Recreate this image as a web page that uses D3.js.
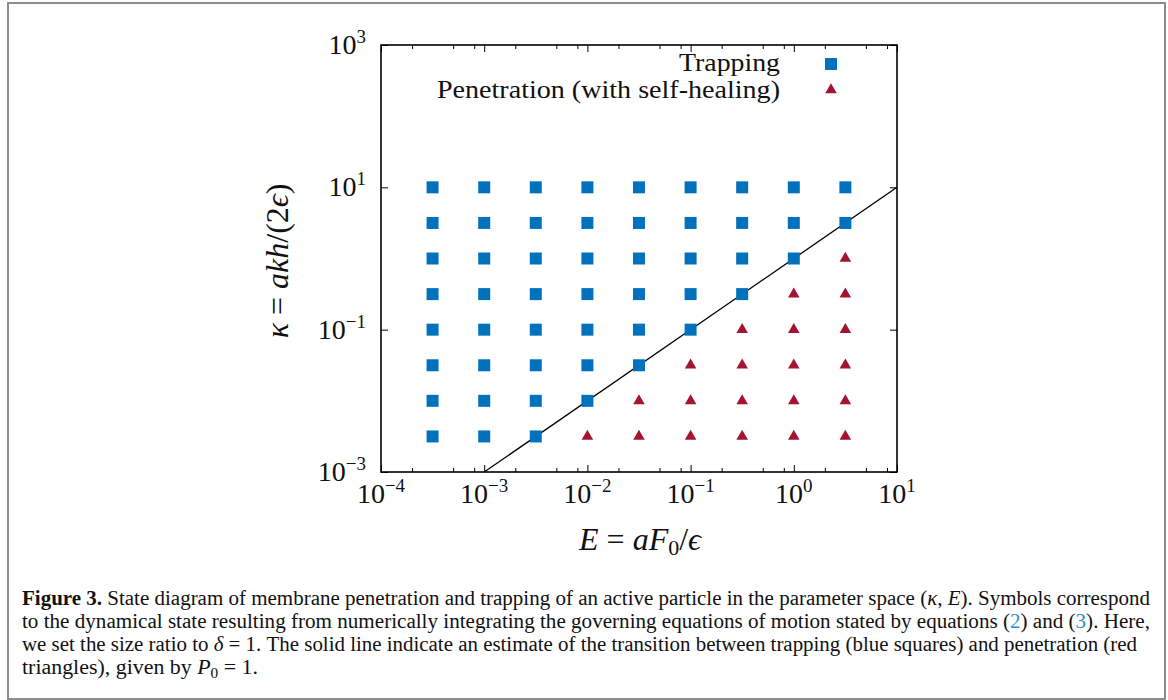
<!DOCTYPE html>
<html>
<head>
<meta charset="utf-8">
<script src="https://cdn.jsdelivr.net/npm/d3@7"></script>
<style>
  body { margin: 0; background: #fff; }
  svg text { font-family: "Liberation Serif", "DejaVu Serif", serif; fill: #111; }
</style>
</head>
<body>
<div id="chart"></div>
<script>
// grid of simulated parameters
const eValues = [3.16e-4, 1e-3, 3.16e-3, 1e-2, 3.16e-2, 1e-1, 3.16e-1, 1, 3.16];
const kappaValues = [10, 3.16, 1, 3.16e-1, 1e-1, 3.16e-2, 1e-2, 3.16e-3];
// T = trapping, P = penetration, one string per kappa row (same order as kappaValues)
const stateRows = [
	"TTTTTTTTT",
	"TTTTTTTTT",
	"TTTTTTTTP",
	"TTTTTTTPP",
	"TTTTTTPPP",
	"TTTTTPPPP",
	"TTTTPPPPP",
	"TTTPPPPPP"
];
// transition estimate P0 = 1
const boundaryE = [1e-3, 1e1];
const boundaryKappa = [1e-3, 1e1];

const xTickExponents = [-4, -3, -2, -1, 0, 1];
const yTickExponents = [-3, -1, 1, 3];
const xMinorFactors = [2, 5, 8];
const legendLabels = ["Trapping", "Penetration (with self-healing)"];

const blue = '#0072bd', red = '#a2142f';
const W = 1168, H = 700;
const plotLeft = 381, plotRight = 897, plotTop = 45, plotBottom = 472;

const svg = d3.select('#chart').append('svg').attr('width', W).attr('height', H);

svg.append('rect').attr('x', 8).attr('y', 3).attr('width', 1157).attr('height', 696)
	.attr('fill', 'none').attr('stroke', '#8c8c8c').attr('stroke-width', 2);

const x = d3.scaleLog().domain([1e-4, 1e1]).range([plotLeft, plotRight]);
const y = d3.scaleLog().domain([1e-3, 1e3]).range([plotBottom, plotTop]);

const xMajor = xTickExponents.map(e => Math.pow(10, e));
const yMajor = yTickExponents.map(e => Math.pow(10, e));
const xMinor = [];
xMajor.slice(0, -1).forEach(m => xMinorFactors.forEach(f => xMinor.push(m * f)));

const tickAxis = (axis, g) => { g.call(axis); g.select('.domain').remove(); g.selectAll('line').attr('stroke', '#000').attr('stroke-width', 1); };

tickAxis(d3.axisBottom(x).tickValues(xMajor).tickSizeInner(-7).tickSizeOuter(0).tickFormat(''), svg.append('g').attr('transform', `translate(0,${plotBottom})`));
tickAxis(d3.axisBottom(x).tickValues(xMinor).tickSizeInner(-4).tickSizeOuter(0).tickFormat(''), svg.append('g').attr('transform', `translate(0,${plotBottom})`));
tickAxis(d3.axisTop(x).tickValues(xMajor).tickSizeInner(-7).tickSizeOuter(0).tickFormat(''), svg.append('g').attr('transform', `translate(0,${plotTop})`));
tickAxis(d3.axisTop(x).tickValues(xMinor).tickSizeInner(-4).tickSizeOuter(0).tickFormat(''), svg.append('g').attr('transform', `translate(0,${plotTop})`));
tickAxis(d3.axisLeft(y).tickValues(yMajor).tickSizeInner(-7).tickSizeOuter(0).tickFormat(''), svg.append('g').attr('transform', `translate(${plotLeft},0)`));
tickAxis(d3.axisRight(y).tickValues(yMajor).tickSizeInner(-7).tickSizeOuter(0).tickFormat(''), svg.append('g').attr('transform', `translate(${plotRight},0)`));

svg.append('rect').attr('x', plotLeft).attr('y', plotTop).attr('width', plotRight - plotLeft).attr('height', plotBottom - plotTop)
	.attr('fill', 'none').attr('stroke', '#000').attr('stroke-width', 1.6);

const powLabel = (sel, e) => {
	sel.append('tspan').text('10');
	sel.append('tspan').attr('font-size', 19).attr('dy', -11).text(String(e).replace('-', '\u2212'));
};

xTickExponents.forEach(e => {
	svg.append('text').attr('x', x(Math.pow(10, e))).attr('y', 503).attr('text-anchor', 'middle')
		.attr('font-size', 28).call(powLabel, e);
});
yTickExponents.forEach(e => {
	svg.append('text').attr('x', 366).attr('y', y(Math.pow(10, e)) + 9).attr('text-anchor', 'end')
		.attr('font-size', 28).call(powLabel, e);
});

// boundary line
svg.append('path')
	.datum(boundaryE.map((e, i) => [e, boundaryKappa[i]]))
	.attr('d', d3.line().x(d => x(d[0])).y(d => y(d[1])))
	.attr('fill', 'none').attr('stroke', '#000').attr('stroke-width', 1.3);

const points = [];
stateRows.forEach((row, j) => row.split('').forEach((s, i) => points.push({ e: eValues[i], k: kappaValues[j], s })));

const square = d3.symbol().type(d3.symbolSquare).size(144)();
const triangle = d3.symbol().type(d3.symbolTriangle).size(58)();

svg.append('g').selectAll('path').data(points).enter().append('path')
	.attr('transform', d => `translate(${x(d.e)},${y(d.k)})`)
	.attr('d', d => d.s === 'T' ? square : triangle)
	.attr('fill', d => d.s === 'T' ? blue : red);

// legend
const legendWidths = [101, 343];
legendLabels.forEach((t, i) => {
	svg.append('text').attr('x', 780).attr('y', 71 + i * 27).attr('text-anchor', 'end').attr('font-size', 26)
		.attr('textLength', legendWidths[i]).attr('lengthAdjust', 'spacingAndGlyphs').text(t);
	svg.append('path').attr('transform', `translate(831,${64 + i * 26})`)
		.attr('d', i === 0 ? square : triangle).attr('fill', i === 0 ? blue : red);
});

// axis titles
const xt = svg.append('text').attr('x', 640).attr('y', 550).attr('text-anchor', 'middle').attr('font-size', 32);
xt.append('tspan').attr('font-style', 'italic').text('E');
xt.append('tspan').text(' = ');
xt.append('tspan').attr('font-style', 'italic').text('aF');
xt.append('tspan').attr('font-size', 22).attr('dy', 5).text('0');
xt.append('tspan').attr('dy', -5).text('/');
xt.append('tspan').attr('font-style', 'italic').text('\u03f5');

const yt = svg.append('text').attr('transform', 'translate(288,261) rotate(-90)').attr('text-anchor', 'middle').attr('font-size', 32);
yt.append('tspan').attr('font-style', 'italic').text('\u03ba');
yt.append('tspan').text(' = ');
yt.append('tspan').attr('font-style', 'italic').text('akh');
yt.append('tspan').text('/(2');
yt.append('tspan').attr('font-style', 'italic').text('\u03f5');
yt.append('tspan').text(')');

// caption
const captionLines = [
	[['b', 'Figure 3.'], ['', ' State diagram of membrane penetration and trapping of an active particle in the parameter space ('], ['i', '\u03ba'], ['', ', '], ['i', 'E'], ['', '). Symbols correspond']],
	[['', 'to the dynamical state resulting from numerically integrating the governing equations of motion stated by equations ('], ['c', '2'], ['', ') and  ('], ['c', '3'], ['', '). Here,']],
	[['', 'we set the size ratio to '], ['i', '\u03b4'], ['', ' = 1. The solid line indicate an estimate of the transition between trapping (blue squares) and penetration (red']],
	[['', 'triangles), given by '], ['i', 'P'], ['s', '0'], ['u', ' = 1.']]
];
const captionWidths = [1128, 1128, 1115, 236];

captionLines.forEach((parts, i) => {
	const t = svg.append('text').attr('x', 22).attr('y', 605 + i * 23).attr('font-size', 20)
		.attr('textLength', captionWidths[i]).attr('lengthAdjust', 'spacingAndGlyphs');
	parts.forEach(([k, s]) => {
		const sp = t.append('tspan').text(s);
		if (k === 'b') sp.attr('font-weight', 'bold');
		if (k === 'i') sp.attr('font-style', 'italic');
		if (k === 'c') sp.style('fill', '#2a8fce');
		if (k === 's') sp.attr('font-size', 14).attr('dy', 4);
		if (k === 'u') sp.attr('dy', -4);
	});
});
</script>
</body>
</html>
